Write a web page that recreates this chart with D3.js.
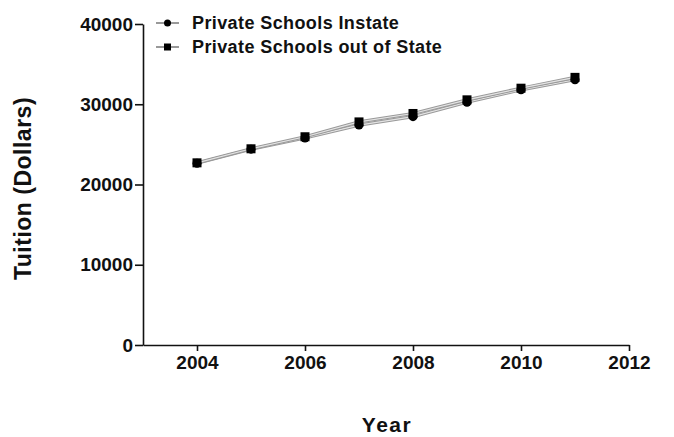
<!DOCTYPE html>
<html>
<head>
<meta charset="utf-8">
<script src="https://cdn.jsdelivr.net/npm/d3@7"></script>
<style>
  body { margin: 0; background: #fff; }
  svg text { font-family: "Liberation Sans", Arial, sans-serif; font-weight: bold; fill: #111; }
</style>
</head>
<body>
<div id="chart"></div>
<script>
const years = [2004, 2005, 2006, 2007, 2008, 2009, 2010, 2011];
const instate = [22650, 24400, 25800, 27400, 28450, 30250, 31800, 33050];
const outOfState = [22700, 24450, 25950, 27800, 28850, 30550, 32000, 33350];
const xTicks = [2004, 2006, 2008, 2010, 2012];
const yTicks = [0, 10000, 20000, 30000, 40000];
const seriesNames = ['Private Schools Instate', 'Private Schools out of State'];

const width = 674, height = 437;
const margin = { top: 24, right: 45, bottom: 92, left: 143 };

const svg = d3.select('#chart')
  .append('svg')
  .attr('width', width)
  .attr('height', height);

const x = d3.scaleLinear()
  .domain([2003, 2012])
  .range([margin.left, width - margin.right]);

const y = d3.scaleLinear()
  .domain([0, 40000])
  .range([height - margin.bottom, margin.top]);

// axes
const xAxis = svg.append('g')
  .attr('transform', `translate(0,${y(0)})`)
  .call(d3.axisBottom(x).tickValues(xTicks).tickFormat(d3.format('d')).tickSize(6).tickSizeOuter(0).tickPadding(5));

const yAxis = svg.append('g')
  .attr('transform', `translate(${x(2003)},0)`)
  .call(d3.axisLeft(y).tickValues(yTicks).tickFormat(d3.format('d')).tickSize(8).tickSizeOuter(0).tickPadding(2));

[xAxis, yAxis].forEach(g => {
  g.select('.domain').attr('stroke', '#111').attr('stroke-width', 1.6);
  g.selectAll('.tick line').attr('stroke', '#111').attr('stroke-width', 1.6);
  g.selectAll('.tick text').style('font-size', '19px').attr('fill', '#111');
});

// axis titles
svg.append('text')
  .attr('transform', `translate(31,${(y(0) + y(40000)) / 2 + 4}) rotate(-90)`)
  .attr('text-anchor', 'middle')
  .style('font-size', '23px')
  .style('letter-spacing', '0.5px')
  .text('Tuition (Dollars)');

svg.append('text')
  .attr('x', 387)
  .attr('y', 432)
  .attr('text-anchor', 'middle')
  .style('font-size', '21px')
  .style('letter-spacing', '1.5px')
  .text('Year');

// lines
const data = [
  years.map((yr, i) => ({ year: yr, value: instate[i] })),
  years.map((yr, i) => ({ year: yr, value: outOfState[i] }))
];

const line = d3.line()
  .x(d => x(d.year))
  .y(d => y(d.value));

data.forEach(series => {
  svg.append('path').datum(series)
    .attr('d', line).attr('fill', 'none')
    .attr('stroke', '#999').attr('stroke-width', 3.2);
  svg.append('path').datum(series)
    .attr('d', line).attr('fill', 'none')
    .attr('stroke', '#e4e4e4').attr('stroke-width', 1.2);
});

// markers
svg.append('g').selectAll('circle')
  .data(data[0]).enter().append('circle')
  .attr('cx', d => x(d.year)).attr('cy', d => y(d.value))
  .attr('r', 4.5).attr('fill', '#000');

svg.append('g').selectAll('rect')
  .data(data[1]).enter().append('rect')
  .attr('x', d => x(d.year) - 4.5).attr('y', d => y(d.value) - 4.5)
  .attr('width', 9).attr('height', 9).attr('fill', '#000');

// legend
const legend = svg.append('g').attr('transform', 'translate(156,0)');
seriesNames.forEach((name, i) => {
  const ly = 23 + i * 24;
  legend.append('line')
    .attr('x1', 0).attr('x2', 23).attr('y1', ly).attr('y2', ly)
    .attr('stroke', '#999').attr('stroke-width', 2);
  if (i === 0) {
    legend.append('circle').attr('cx', 11.5).attr('cy', ly).attr('r', 3.5).attr('fill', '#000');
  } else {
    legend.append('rect').attr('x', 8).attr('y', ly - 3.5).attr('width', 7).attr('height', 7).attr('fill', '#000');
  }
  legend.append('text')
    .attr('x', 36).attr('y', ly + 6)
    .style('font-size', '18px')
    .style('letter-spacing', '0.4px')
    .text(name);
});
</script>
</body>
</html>
